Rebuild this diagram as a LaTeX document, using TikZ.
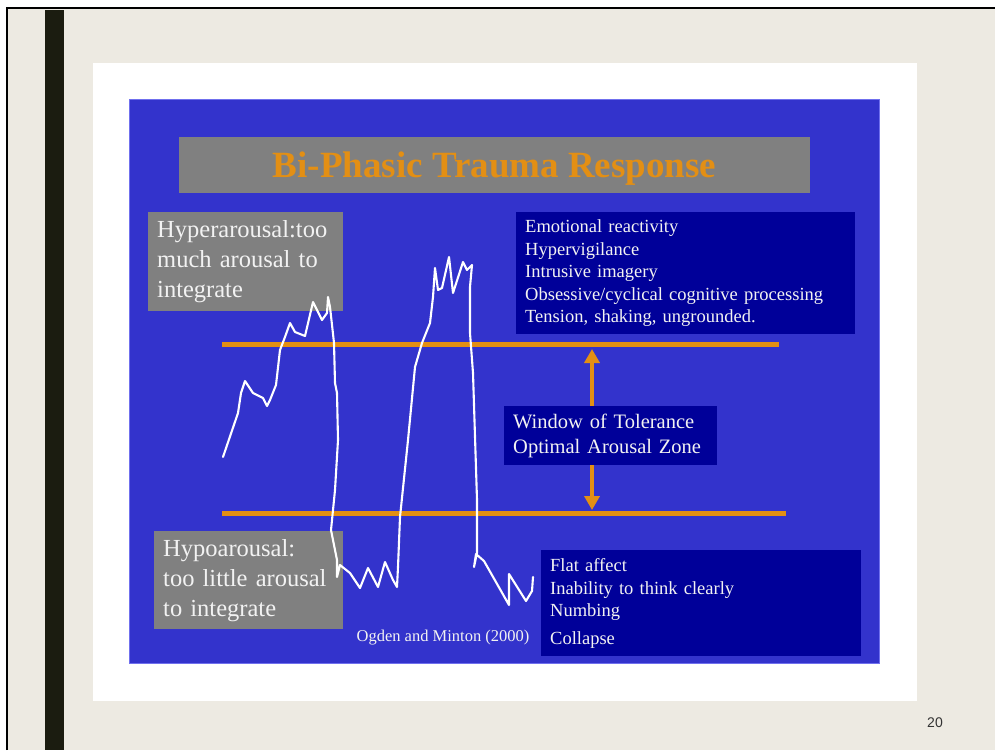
\documentclass[tikz,border=0pt]{standalone}
\usepackage{fontspec}
\setmainfont{Liberation Serif}
\newfontfamily\pagenofont{Liberation Sans}
\usepackage{tikz}
\usetikzlibrary{positioning, arrows.meta}
\definecolor{slidebeige}{HTML}{EDEAE2}
\definecolor{slidebar}{HTML}{1B1C10}
\definecolor{slideblue}{HTML}{3333CC}
\definecolor{slideedge}{HTML}{7070EE}
\definecolor{panelnavy}{HTML}{000099}
\definecolor{boxgray}{HTML}{808080}
\definecolor{bandorange}{HTML}{E38F14}
\definecolor{paletext}{HTML}{F2F2F2}
\tikzset{
	graybox/.style={fill=boxgray, text=paletext, align=left, anchor=north west,
		inner xsep=9pt, inner ysep=0pt, font=\fontsize{24.5}{30}\selectfont}
}
\tikzset{
	navybox/.style={fill=panelnavy, text=paletext, align=left, anchor=north west,
		inner xsep=9pt, inner ysep=0pt, font=\fontsize{18.5}{22.5}\selectfont}
}
\tikzset{
	orangeband/.style={bandorange, line width=5pt},
	tolarrow/.style={bandorange, line width=4pt, -{Triangle[width=15pt,length=14pt]}},
	wavetrace/.style={white, line width=2.1pt, line join=round, line cap=round}
}

\begin{document}
\begin{tikzpicture}[x=1pt, y=-1pt]
      \useasboundingbox (0,0) rectangle (995,750);
      % slide frame
      \fill[slidebeige] (7,8) rectangle (995,750);
      \draw[black, line width=2.5pt] (7,750) -- (7,8) -- (995,8);
      \fill[slidebar] (45,9.5) rectangle (64,750);
      \fill[white] (93,63) rectangle (917,701);
      \draw[slideedge, fill=slideblue, line width=1pt] (129,99) rectangle (879,663);
      % title
      \node[fill=boxgray, minimum width=631pt, minimum height=56pt, text depth=0pt, text=bandorange,
        font=\fontsize{37}{40}\selectfont\bfseries] (title) at (494.5,165) {Bi-Phasic Trauma Response};
      % tolerance band
      \draw[orangeband] (222,344) -- (779,344);
      \draw[orangeband] (222,513) -- (786,513);
      % boxes
      \node[graybox, minimum width=195pt, minimum height=99pt, text width=177pt] (hyper) at (148,212)
        {Hyperarousal:too\\much arousal to\\integrate};
      \node[graybox, minimum width=189pt, minimum height=98pt, text width=171pt] (hypo) at (154,531)
        {Hypoarousal:\\too little arousal\\to integrate};
      \node[navybox, minimum width=339pt, minimum height=122pt, text width=321pt] (hisigns) at (516,212)
        {Emotional reactivity\\Hypervigilance\\Intrusive imagery\\Obsessive/cyclical cognitive processing\\Tension, shaking, ungrounded.};
      \node[navybox, minimum width=320pt, minimum height=106pt, text width=302pt] (losigns) at (541,550)
        {Flat affect\\Inability to think clearly\\Numbing\\[5pt]Collapse};
      \node[navybox, minimum width=213pt, minimum height=59pt, text width=195pt,
        font=\fontsize{20.5}{25}\selectfont] (tolerance) at (504,406)
        {Window of Tolerance\\Optimal Arousal Zone};
      \node[text=paletext, font=\fontsize{16.5}{18}\selectfont] (cite) at (443,638) {Ogden and Minton (2000)};
      % arousal trace, over the boxes
      \draw[wavetrace] (223,457) -- (238,413) -- (241,393) -- (245,381) -- (253,393)
        -- (263,398) -- (267,406) -- (270,400) -- (276,385) -- (280,350) -- (285,337)
        -- (290,323) -- (295,332) -- (305,336) -- (313,302) -- (322,320) -- (327,313)
        -- (328,297) -- (330,307) -- (334,343) -- (335,383) -- (337,393) -- (338,440)
        -- (335,490) -- (331,530) -- (333,540) -- (337,560) -- (337,577) -- (340,565)
        -- (350,573) -- (360,588) -- (368,568) -- (378,587) -- (385,562) -- (393,580)
        -- (397,587) -- (398,567) -- (400,517) -- (408,440) -- (415,367) -- (422,343)
        -- (430,323) -- (433,297) -- (435,268) -- (438,290) -- (442,288) -- (449,257)
        -- (453,293) -- (463,262) -- (467,270) -- (472,265) -- (470,287) -- (470,333)
        -- (473,373) -- (477,500) -- (477,553) -- (474,567) -- (476,554) -- (484,561)
        -- (509,605) -- (509,574) -- (526,601) -- (532,591) -- (533,577);
      % arrows to the band edges
      \coordinate (hiedge) at (592,349);
      \coordinate (loedge) at (592,510);
      \draw[tolarrow] (tolerance.north -| hiedge) -- (hiedge);
      \draw[tolarrow] (tolerance.south -| loedge) -- (loedge);
      \node[text=black!80, font=\pagenofont\fontsize{14}{16}\selectfont] (pageno) at (935,723) {20};
    \end{tikzpicture}
\end{document}
